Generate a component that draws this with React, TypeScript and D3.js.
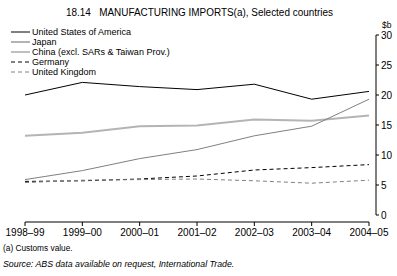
import React from "react";
import * as d3 from "d3";

const W = 397;
const H = 276;

const years = ["1998–99", "1999–00", "2000–01", "2001–02", "2002–03", "2003–04", "2004–05"];
const usa = [20.0, 22.1, 21.4, 20.9, 21.8, 19.3, 20.6];
const japan = [13.2, 13.7, 14.8, 14.9, 15.9, 15.7, 16.6];
const china = [5.9, 7.4, 9.4, 10.9, 13.2, 14.8, 19.3];
const germany = [5.6, 5.7, 6.0, 6.5, 7.5, 7.9, 8.4];
const uk = [5.4, 5.8, 5.9, 6.0, 5.7, 5.3, 5.8];
const yTicks = [0, 5, 10, 15, 20, 25, 30];

const series = [
  { name: "United States of America", values: usa, color: "#000", width: 1, dash: "" },
  { name: "Japan", values: japan, color: "#b4b4b4", width: 2, dash: "" },
  { name: "China (excl. SARs & Taiwan Prov.)", values: china, color: "#808080", width: 1, dash: "" },
  { name: "Germany", values: germany, color: "#000", width: 1, dash: "4,3" },
  { name: "United Kingdom", values: uk, color: "#808080", width: 1, dash: "4,3" },
];

const FONT = "Liberation Sans, Arial, sans-serif";

export default function App() {
  const x = d3.scalePoint<string>().domain(years).range([25, 369]);
  const y = d3.scaleLinear().domain([0, 30]).range([215, 35]);
  const line = d3
    .line<number>()
    .x((d, i) => x(years[i]) as number)
    .y((d) => y(d));

  const axisX = 376;
  const baseY = 222;

  return (
    <svg
      width={W}
      height={H}
      style={{ position: "absolute", left: 0, top: 0, background: "#fff" }}
      fontFamily={FONT}
    >
      <text
        x={66}
        y={16}
        fontSize={10}
        textLength={267}
        lengthAdjust="spacingAndGlyphs"
        fill="#000"
        style={{ whiteSpace: "pre" }}
      >
        {"18.14   MANUFACTURING IMPORTS(a), Selected countries"}
      </text>

      {/* legend */}
      {series.map((s, i) => (
        <g key={s.name} transform={`translate(0,${32 + i * 10})`}>
          <line
            x1={11}
            x2={30}
            y1={0}
            y2={0}
            stroke={s.color}
            strokeWidth={s.width}
            strokeDasharray={s.dash}
          />
          <text x={32} y={3} fontSize={9} fill="#000">
            {s.name}
          </text>
        </g>
      ))}

      {/* lines */}
      {series.map((s) => (
        <path
          key={s.name}
          d={line(s.values) || ""}
          fill="none"
          stroke={s.color}
          strokeWidth={s.width}
          strokeDasharray={s.dash}
        />
      ))}

      {/* y axis on right */}
      <line x1={axisX} x2={axisX} y1={y(30)} y2={y(0)} stroke="#000" />
      {yTicks.map((t) => (
        <g key={t}>
          <line x1={axisX} x2={axisX + 3} y1={y(t)} y2={y(t)} stroke="#000" />
          <text x={axisX + 5} y={y(t) + 3.5} fontSize={10} fill="#000">
            {t}
          </text>
        </g>
      ))}
      <text x={382} y={28} fontSize={8.5} fill="#000">
        $b
      </text>

      {/* x axis */}
      <line x1={x(years[0])} x2={x(years[years.length - 1])} y1={baseY} y2={baseY} stroke="#000" />
      {years.map((yr) => (
        <g key={yr}>
          <line x1={x(yr)} x2={x(yr)} y1={baseY} y2={baseY + 4} stroke="#000" />
          <text x={x(yr)} y={236} fontSize={10} textAnchor="middle" fill="#000">
            {yr}
          </text>
        </g>
      ))}

      <text x={3} y={251} fontSize={8.3} fill="#000">
        (a) Customs value.
      </text>
      <text x={3} y={267} fontSize={8.8} fontStyle="italic" fill="#000">
        Source: ABS data available on request, International Trade.
      </text>
    </svg>
  );
}
